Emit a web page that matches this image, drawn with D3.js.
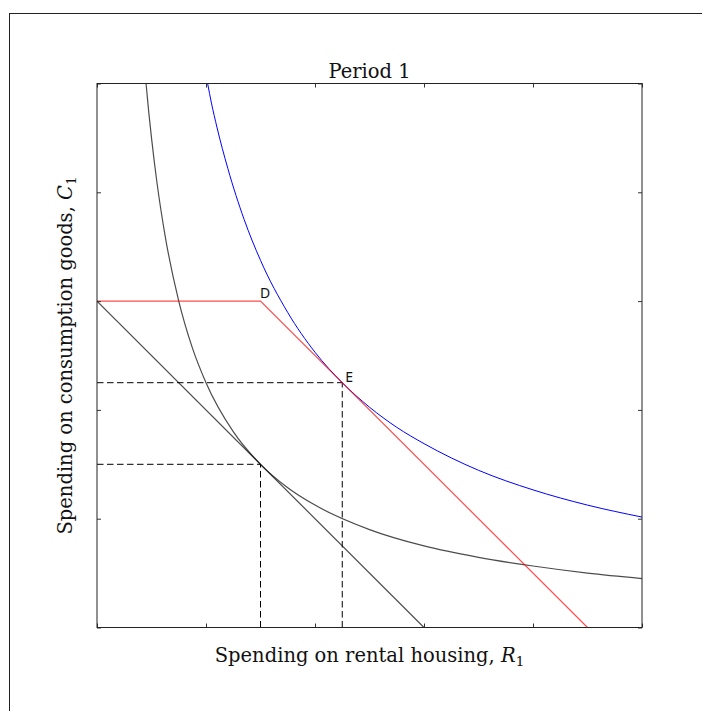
<!DOCTYPE html>
<html>
<head>
<meta charset="utf-8">
<script src="https://cdn.jsdelivr.net/npm/d3@7"></script>
<style>
  html, body { margin: 0; padding: 0; background: #fff; }
  svg { display: block; }
</style>
</head>
<body>
<svg id="chart" width="702" height="711"></svg>
<script>
// ---- data ----
const xTicks = [0, 2, 4, 6, 8, 10];
const yTicks = [0, 2, 4, 6, 8, 10];

// indifference curve through E (blue)
const highCurve = [
  [2.03, 10], [2.1, 9.64], [2.2, 9.2], [2.4, 8.44], [2.7, 7.5], [3, 6.75],
  [3.5, 5.79], [4, 5.06], [4.5, 4.5], [5, 4.05], [5.5, 3.68], [6, 3.38],
  [7, 2.89], [8, 2.53], [9, 2.25], [10, 2.03]
];
// indifference curve through the lower tangency (black)
const lowCurve = [
  [0.9, 10], [0.95, 9.47], [1, 9], [1.1, 8.18], [1.25, 7.2], [1.5, 6],
  [1.75, 5.14], [2, 4.5], [2.5, 3.6], [3, 3], [3.5, 2.57], [4, 2.25],
  [5, 1.8], [6, 1.5], [7, 1.29], [8, 1.13], [9, 1], [10, 0.9]
];
// budget constraints
const kinkedBudget = [[0, 6], [3, 6], [9, 0]];   // red, with kink at D
const plainBudget = [[0, 6], [6, 0]];            // black
// points
const pointLabels = [
  { name: "D", x: 3, y: 6, dx: -0.5, dy: -3 },
  { name: "E", x: 4.5, y: 4.5, dx: 3, dy: -1 }
];
const tangencies = [[4.5, 4.5], [3, 3]];

const titleText = "Period 1";
const xLabelText = "Spending on rental housing, ";
const xLabelVar = "R";
const yLabelText = "Spending on consumption goods, ";
const yLabelVar = "C";

// ---- layout ----
const svg = d3.select("#chart");
const pL = 97, pR = 642, pT = 83.5, pB = 627.5;

const x = d3.scaleLinear().domain([0, 10]).range([pL, pR]);
const y = d3.scaleLinear().domain([0, 10]).range([pB, pT]);

// outer figure frame (extends past the window)
svg.append("rect")
  .attr("x", 9.5).attr("y", 13.5)
  .attr("width", 760).attr("height", 760)
  .attr("fill", "none").attr("stroke", "#222").attr("stroke-width", 1);

svg.append("defs").append("clipPath").attr("id", "plotclip")
  .append("rect").attr("x", pL).attr("y", pT)
  .attr("width", pR - pL).attr("height", pB - pT);

const g = svg.append("g").attr("clip-path", "url(#plotclip)");
const line = d3.line().x(d => x(d[0])).y(d => y(d[1]));
const smooth = d3.line().x(d => x(d[0])).y(d => y(d[1])).curve(d3.curveMonotoneX);

// dashed guides
tangencies.forEach(p => {
  g.append("path").attr("d", line([[0, p[1]], [p[0], p[1]]]))
    .attr("fill", "none").attr("stroke", "#000").attr("stroke-width", 1)
    .attr("stroke-dasharray", "6.5,3.5");
  g.append("path").attr("d", line([[p[0], 0], [p[0], p[1]]]))
    .attr("fill", "none").attr("stroke", "#000").attr("stroke-width", 1)
    .attr("stroke-dasharray", "6.5,3.5");
});

g.append("path").attr("d", line(plainBudget))
  .attr("fill", "none").attr("stroke", "#000").attr("stroke-opacity", 0.7).attr("stroke-width", 1.2);
g.append("path").attr("d", smooth(lowCurve))
  .attr("fill", "none").attr("stroke", "#000").attr("stroke-opacity", 0.7).attr("stroke-width", 1.2);
g.append("path").attr("d", smooth(highCurve))
  .attr("fill", "none").attr("stroke", "#0000ff").attr("stroke-width", 1);
g.append("path").attr("d", line(kinkedBudget))
  .attr("fill", "none").attr("stroke", "#ff0000").attr("stroke-opacity", 0.7).attr("stroke-width", 1.2);

// point labels
svg.selectAll("text.pt").data(pointLabels).enter().append("text")
  .attr("class", "pt")
  .attr("x", d => x(d.x) + d.dx)
  .attr("y", d => y(d.y) + d.dy)
  .attr("font-family", "Noto Sans")
  .attr("font-size", 14)
  .attr("fill", "#111")
  .text(d => d.name);

// axes (inward ticks on all four sides, no labels)
const tickLen = 4;
svg.append("g").attr("transform", `translate(0,${pB})`)
  .call(d3.axisBottom(x).tickValues(xTicks).tickSize(-tickLen).tickFormat(""));
svg.append("g").attr("transform", `translate(0,${pT})`)
  .call(d3.axisTop(x).tickValues(xTicks).tickSize(-tickLen).tickFormat(""));
svg.append("g").attr("transform", `translate(${pL},0)`)
  .call(d3.axisLeft(y).tickValues(yTicks).tickSize(-tickLen).tickFormat(""));
svg.append("g").attr("transform", `translate(${pR},0)`)
  .call(d3.axisRight(y).tickValues(yTicks).tickSize(-tickLen).tickFormat(""));
svg.selectAll(".domain").remove();
svg.selectAll(".tick line").attr("stroke", "#333");

// spines
svg.append("rect").attr("x", pL).attr("y", pT)
  .attr("width", pR - pL).attr("height", pB - pT)
  .attr("fill", "none").attr("stroke", "#222").attr("stroke-width", 1);

// title
svg.append("text")
  .attr("x", (pL + pR) / 2).attr("y", 78)
  .attr("text-anchor", "middle")
  .attr("font-family", "DejaVu Serif").attr("font-size", 19.5)
  .attr("fill", "#111")
  .text(titleText);

// x label
const xl = svg.append("text")
  .attr("x", (pL + pR) / 2).attr("y", 662)
  .attr("text-anchor", "middle")
  .attr("font-family", "DejaVu Serif").attr("font-size", 19.5)
  .attr("fill", "#111");
xl.append("tspan").text(xLabelText);
xl.append("tspan").attr("font-style", "italic").text(xLabelVar);
xl.append("tspan").attr("font-size", 13.5).attr("dy", 4).text("1");

// y label
const yl = svg.append("text")
  .attr("transform", `translate(72,${(pT + pB) / 2}) rotate(-90)`)
  .attr("text-anchor", "middle")
  .attr("font-family", "DejaVu Serif").attr("font-size", 19.5)
  .attr("fill", "#111");
yl.append("tspan").text(yLabelText);
yl.append("tspan").attr("font-style", "italic").text(yLabelVar);
yl.append("tspan").attr("font-size", 13.5).attr("dy", 4).text("1");
</script>
</body>
</html>
